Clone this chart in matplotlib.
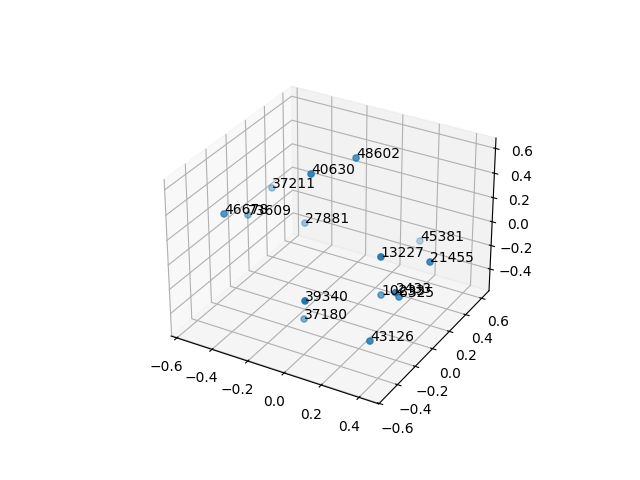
import matplotlib
matplotlib.use('Agg')
import matplotlib.pyplot as plt

labels = ['48602', '40630', '37211', '46678', '73609', '27881', '45381', '13227', '21455',
          '10233', '2433', '6325', '39340', '37180', '43126']
xs = [0.005, -0.085, -0.492, -0.466, -0.504, -0.309, 0.152, 0.312, 0.471,
      0.222, 0.392, 0.343, 0.083, -0.117, 0.321]
ys = [0.154, -0.147, 0.207, -0.331, -0.027, 0.214, 0.602, -0.199, 0.013,
      -0.001, -0.200, -0.054, -0.540, -0.170, -0.328]
zs = [0.649, 0.668, 0.176, 0.310, 0.093, -0.046, -0.252, 0.215, 0.103,
      -0.270, -0.034, -0.194, -0.006, -0.510, -0.371]

fig = plt.figure()
ax = fig.add_subplot(projection='3d')
ax.scatter(xs, ys, zs)
for i in range(len(labels)):
    ax.text(xs[i], ys[i], zs[i], labels[i])
ax.set_xlim(-0.633, 0.503)
ax.set_ylim(-0.605, 0.695)
ax.set_zlim(-0.587, 0.683)

plt.savefig('out.png')
